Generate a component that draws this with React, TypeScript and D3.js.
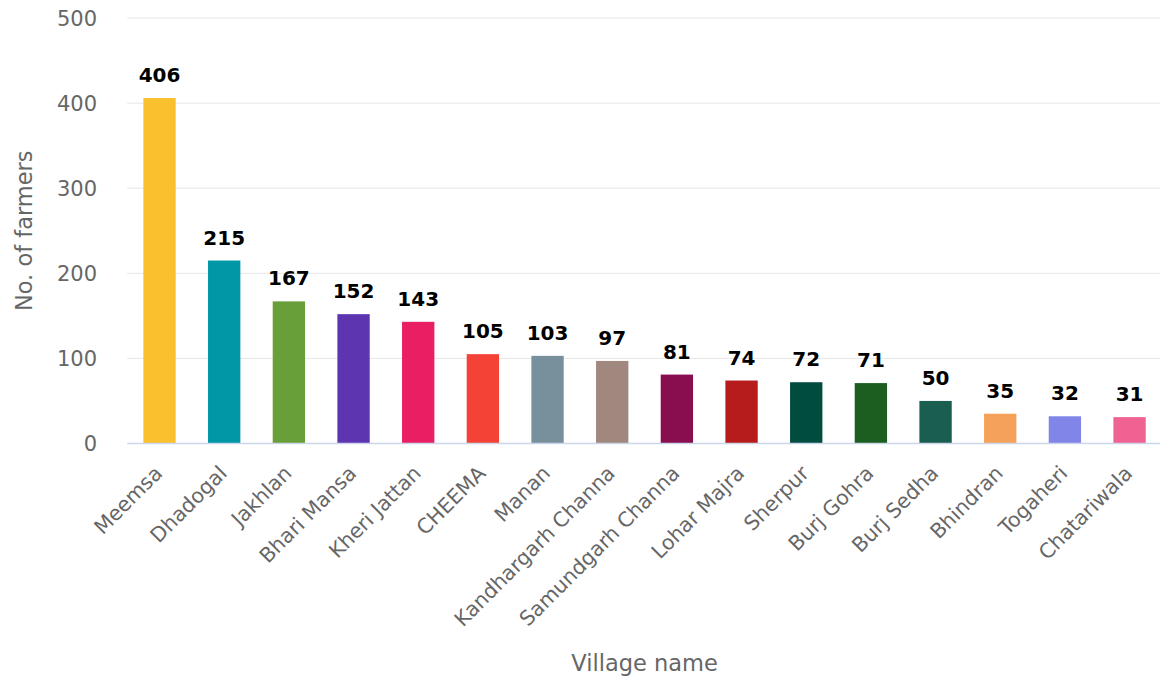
import React from "react";
import * as d3 from "d3";

const villages = [
  "Meemsa", "Dhadogal", "Jakhlan", "Bhari Mansa", "Kheri Jattan", "CHEEMA", "Manan",
  "Kandhargarh Channa", "Samundgarh Channa", "Lohar Majra", "Sherpur", "Burj Gohra",
  "Burj Sedha", "Bhindran", "Togaheri", "Chatariwala",
];
const farmers = [406, 215, 167, 152, 143, 105, 103, 97, 81, 74, 72, 71, 50, 35, 32, 31];
const barColors = [
  "#fbc02d", "#0097a7", "#689f38", "#5e35b1", "#e91e63", "#f44336", "#78909c",
  "#a1887f", "#880e4f", "#b71c1c", "#004d40", "#1b5e20", "#1a5e4f", "#f6a15a",
  "#8285e8", "#f06292",
];
const yTicks = [0, 100, 200, 300, 400, 500];
const xTitle = "Village name";
const yTitle = "No. of farmers";

const W = 1160;
const H = 682;
const FONT = "'DejaVu Sans', Verdana, sans-serif";

export default function App() {
  const left = 127.2;
  const right = 1161.9;
  const top = 18;
  const bottom = 443.5;
  const x = d3.scaleBand<string>().domain(villages).range([left, right]).paddingInner(0.5).paddingOuter(0.25);
  const y = d3.scaleLinear().domain([0, 500]).range([bottom, top]);

  return (
    <svg width={W} height={H} style={{ position: "absolute", left: 0, top: 0, background: "#fff" }} fontFamily={FONT}>
      {yTicks.map((t) => (
        <g key={t}>
          {t > 0 && <line x1={left} x2={W} y1={y(t)} y2={y(t)} stroke="#e6e6e6" strokeWidth={1} />}
          <text x={97} y={y(t)} dy="0.36em" textAnchor="end" fill="#666666" fontSize={21}>
            {t}
          </text>
        </g>
      ))}
      {villages.map((v, i) => (
        <rect key={v} x={x(v)!} y={y(farmers[i])} width={x.bandwidth()} height={bottom - y(farmers[i])} fill={barColors[i]} />
      ))}
      <line x1={left} x2={W} y1={bottom} y2={bottom} stroke="#ccd6eb" strokeWidth={1.5} />
      {villages.map((v, i) => (
        <text key={v + "l"} x={x(v)! + x.bandwidth() / 2} y={y(farmers[i]) - 16} textAnchor="middle" fontSize={20} fontWeight="bold" fill="#000">
          {farmers[i]}
        </text>
      ))}
      {villages.map((v) => {
        const cx = x(v)! + x.bandwidth() / 2 + 4;
        const cy = bottom + 31;
        return (
          <text key={v + "x"} x={cx} y={cy} textAnchor="end" fontSize={20.5} fill="#666666" transform={`rotate(-45 ${cx} ${cy})`}>
            {v}
          </text>
        );
      })}
      <text x={(left + right) / 2} y={671} textAnchor="middle" fontSize={22.5} fill="#666666">
        {xTitle}
      </text>
      <text transform={`translate(32 ${(top + bottom) / 2}) rotate(-90)`} textAnchor="middle" fontSize={22.5} fill="#666666">
        {yTitle}
      </text>
    </svg>
  );
}
